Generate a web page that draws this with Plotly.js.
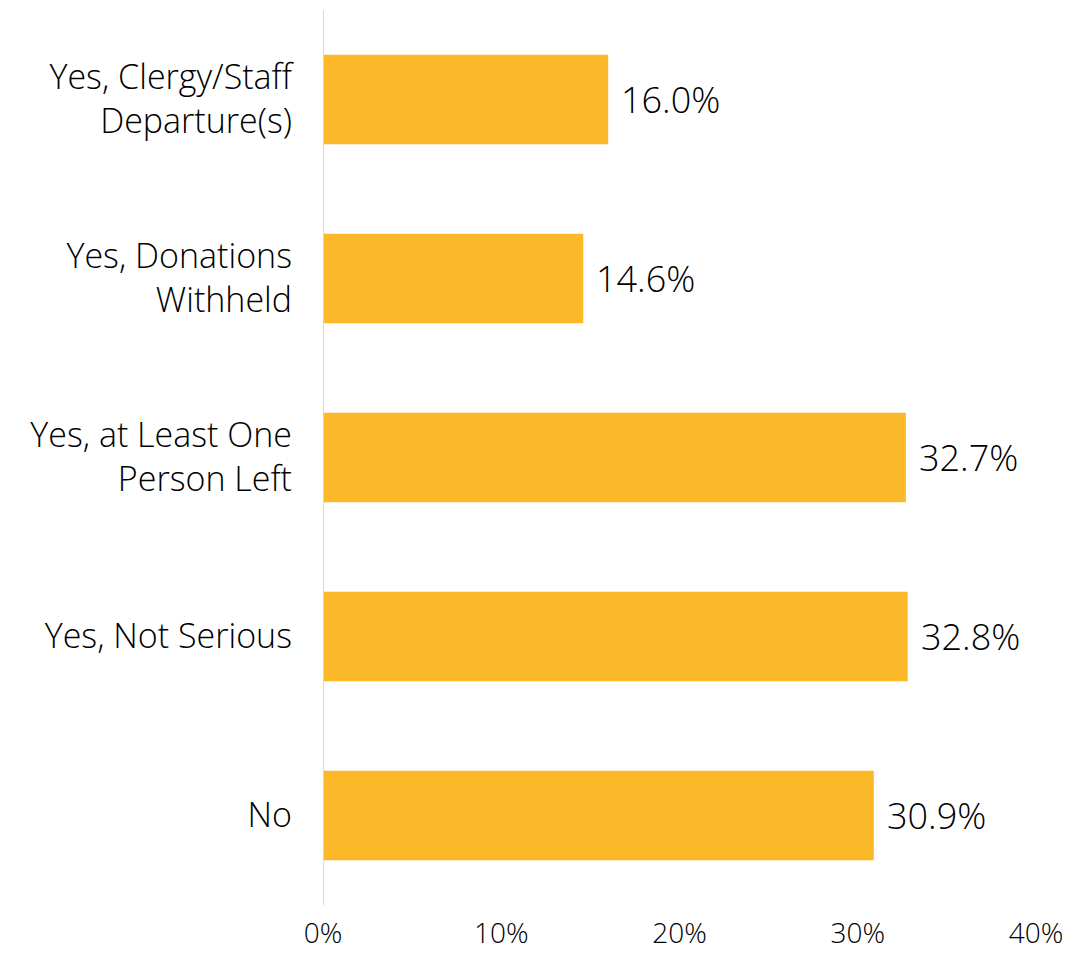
<!DOCTYPE html>
<html><head><meta charset="utf-8">
<script src="https://cdn.plot.ly/plotly-3.0.1.min.js"></script>
<style>html,body{margin:0;padding:0;background:#fff}#chart{width:1083px;height:953px}</style>
</head><body><div id="chart"></div>
<script>
const categories = ["Yes, Clergy/Staff<br>Departure(s)", "Yes, Donations<br>Withheld", "Yes, at Least One<br>Person Left", "Yes, Not Serious", "No"];
const values = [16.0, 14.6, 32.7, 32.8, 30.9];
const valueLabels = ["16.0%", "14.6%", "32.7%", "32.8%", "30.9%"];
const tickVals = [0, 10, 20, 30, 40];
const tickText = ["0%", "10%", "20%", "30%", "40%"];

const font = "'Open Sans', Lato, sans-serif";
const trace = {
  type: "bar", orientation: "h",
  x: values, y: categories,
  marker: {color: "#FBB829"},
  hoverinfo: "none"
};
const annotations = values.map((v, i) => ({
  x: v, y: categories[i], xref: "x", yref: "y",
  text: valueLabels[i], showarrow: false, xanchor: "left", xshift: 11,
  font: {family: font, size: 36, weight: 300, color: "#000"}
}));
const layout = {
  width: 1083, height: 953,
  margin: {l: 323, r: 47, t: 10, b: 48},
  paper_bgcolor: "#fff", plot_bgcolor: "#fff",
  bargap: 0.5,
  showlegend: false,
  font: {family: font, color: "#000"},
  xaxis: {range: [0, 40], tickvals: tickVals, ticktext: tickText, showgrid: false,
          zeroline: false, showline: false, ticks: "", tickfont: {size: 28, weight: 300, family: font, color: "#000"},
          ticklabelstandoff: 9, fixedrange: true},
  yaxis: {categoryorder: "array", categoryarray: categories,
          autorange: "reversed", showgrid: false, zeroline: false,
          showline: false, ticks: "", tickfont: {size: 34, weight: 300, family: font, color: "#000"},
          ticklabelstandoff: 30, fixedrange: true},
  shapes: [{type: "line", xref: "x", yref: "paper", x0: 0, x1: 0, y0: 0, y1: 1,
            line: {color: "#d9d9d9", width: 2}}],
  annotations: annotations
};
Plotly.newPlot("chart", [trace], layout, {displayModeBar: false, staticPlot: true});
</script></body></html>
